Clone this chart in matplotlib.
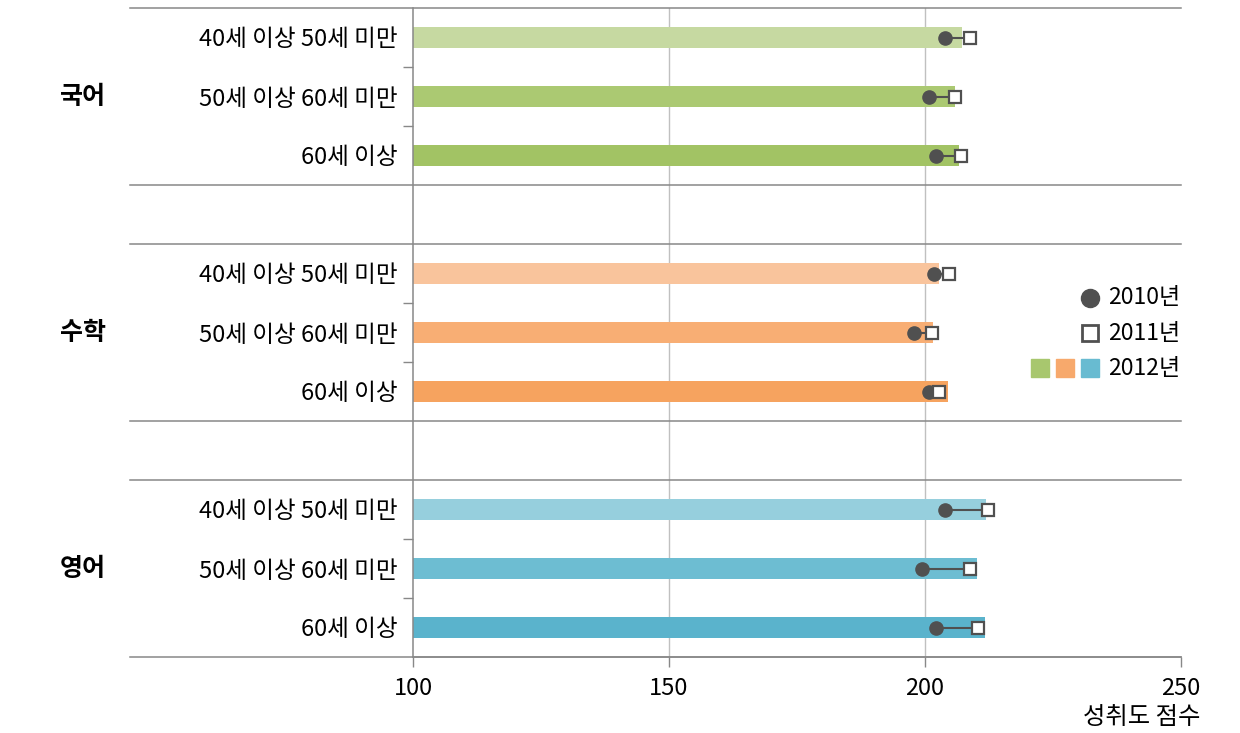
import matplotlib.pyplot as plt
from matplotlib.lines import Line2D

plt.rcParams['font.family'] = ['Noto Sans CJK KR', 'DejaVu Sans']

subjects = ['국어', '수학', '영어']
ages = ['40세 이상 50세 미만', '50세 이상 60세 미만', '60세 이상']

score_2012 = [[207.2, 205.8, 206.7],
              [202.7, 201.6, 204.4],
              [212.0, 210.1, 211.8]]
score_2011 = [[208.8, 205.9, 207.1],
              [204.6, 201.4, 202.8],
              [212.4, 208.8, 210.3]]
score_2010 = [[204.0, 200.8, 202.1],
              [201.8, 197.9, 200.8],
              [203.9, 199.4, 202.1]]

bar_colors = [['#c6d9a1', '#abc972', '#a2c364'],
              ['#f9c49c', '#f8ae74', '#f6a35f'],
              ['#96cfdd', '#6dbdd2', '#5ab3cc']]

fig = plt.figure(figsize=(12.4, 7.33), dpi=100)
ax = fig.add_axes([413 / 1240, 1 - 657 / 733, 768 / 1240, 649 / 733])

line_c = '#888888'
dark = '#505050'
yt, ylab = [], []
for g in range(3):
    for r in range(3):
        y = g * 4 + r
        yt.append(y)
        ylab.append(ages[r])
        ax.barh(y, score_2012[g][r] - 100, left=100, height=0.34,
                color=bar_colors[g][r], zorder=2)
        ax.plot([score_2010[g][r], score_2011[g][r]], [y, y], color=dark, lw=1.5, zorder=3)
        ax.plot(score_2010[g][r], y, 'o', ms=9.5, color=dark, zorder=4)
        ax.plot(score_2011[g][r], y, 's', ms=9, mfc='white', mec=dark, mew=1.6, zorder=5)
    ax.text(-0.43, g * 4 + 1, subjects[g], transform=ax.get_yaxis_transform(),
            ha='center', va='center', fontsize=18, fontweight='bold')

ax.set_xlim(100, 250)
ax.set_ylim(10.5, -0.5)
ax.set_xticks([100, 150, 200, 250])
ax.set_yticks(yt)
ax.set_yticklabels(ylab)
ax.set_yticks([0.5, 1.5, 4.5, 5.5, 8.5, 9.5], minor=True)
ax.tick_params(axis='y', which='major', length=0, pad=11, labelsize=17)
ax.tick_params(axis='y', which='minor', length=7.5, width=1, color=line_c)
ax.tick_params(axis='x', length=7.5, width=1, color=line_c, labelsize=17, pad=7)
for v in [150, 200]:
    ax.axvline(v, color='#c0c0c0', lw=1, zorder=1)

for s in ['top', 'right']:
    ax.spines[s].set_visible(False)
for s in ['left', 'bottom']:
    ax.spines[s].set_color(line_c)
    ax.spines[s].set_linewidth(1.1)
ax.spines['bottom'].set_bounds(100, 250)

for y in [-0.5, 2.5, 3.5, 6.5, 7.5, 10.5]:
    ax.plot([-0.3685, 1], [y, y], color=line_c, lw=1.1, clip_on=False,
            transform=ax.get_yaxis_transform(), zorder=1)

ax.text(1.0247, -0.093, '성취도 점수', transform=ax.transAxes, ha='right', va='center', fontsize=17.5)

# legend
lx, tx = 0.8815, 0.905
ax.add_line(Line2D([lx], [0.5532], marker='o', ms=13, color=dark, ls='none',
                   transform=ax.transAxes, clip_on=False))
ax.text(tx, 0.5532, '2010년', transform=ax.transAxes, va='center', fontsize=16.5)
ax.add_line(Line2D([lx], [0.4992], marker='s', ms=11.5, mfc='white', mec=dark, mew=2,
                   ls='none', transform=ax.transAxes, clip_on=False))
ax.text(tx, 0.4992, '2011년', transform=ax.transAxes, va='center', fontsize=16.5)
for x, c in zip([0.8164, 0.849, 0.8815], ['#a8c76e', '#f7a96c', '#68bbd1']):
    ax.add_line(Line2D([x], [0.4453], marker='s', ms=13.5, color=c, ls='none',
                       transform=ax.transAxes, clip_on=False))
ax.text(tx, 0.4453, '2012년', transform=ax.transAxes, va='center', fontsize=16.5)

fig.savefig('out.png', dpi=100)
